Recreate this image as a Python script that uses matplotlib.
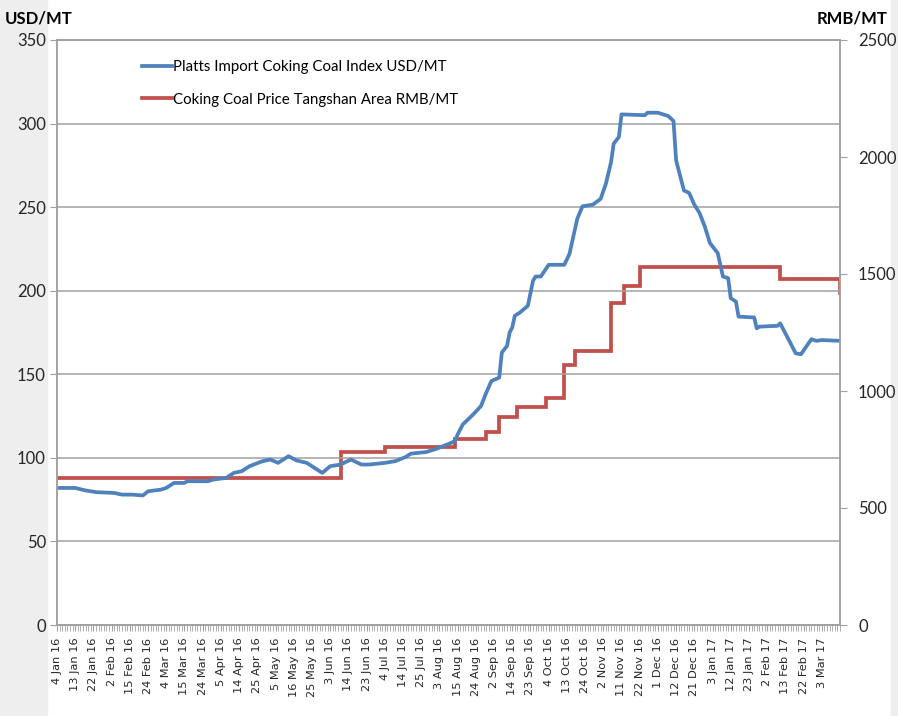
import matplotlib
matplotlib.use("Agg")
import matplotlib.pyplot as plt
from matplotlib.patches import Rectangle
from matplotlib.ticker import MultipleLocator

# x axis is a category axis of trading days, a label every 7th day
tick_labels = [
    "4 Jan 16", "13 Jan 16", "22 Jan 16", "2 Feb 16", "15 Feb 16", "24 Feb 16",
    "4 Mar 16", "15 Mar 16", "24 Mar 16", "5 Apr 16", "14 Apr 16", "25 Apr 16",
    "5 May 16", "16 May 16", "25 May 16", "3 Jun 16", "14 Jun 16", "23 Jun 16",
    "4 Jul 16", "14 Jul 16", "25 Jul 16", "3 Aug 16", "15 Aug 16", "24 Aug 16",
    "2 Sep 16", "14 Sep 16", "23 Sep 16", "4 Oct 16", "13 Oct 16", "24 Oct 16",
    "2 Nov 16", "11 Nov 16", "22 Nov 16", "1 Dec 16", "12 Dec 16", "21 Dec 16",
    "3 Jan 17", "12 Jan 17", "23 Jan 17", "2 Feb 17", "13 Feb 17", "22 Feb 17",
    "3 Mar 17",
]
n_days = 302

# Platts import coking coal index, USD/MT (trading day no., value)
usd_day = [0, 7, 11, 15, 22, 25, 29, 33, 35, 40, 42, 45, 49, 50, 58, 60, 65, 68,
           71, 74, 79, 82, 85, 89, 92, 96, 99, 102, 105, 109, 113, 117, 120, 126,
           130, 134, 136, 142, 146, 150, 153, 154, 156, 158, 160, 163, 165, 167,
           170, 171, 173, 174, 175, 176, 178, 181, 183, 184, 186, 189, 195, 197,
           198, 199, 200, 202, 206, 209, 211, 213, 214, 216, 217, 226, 227, 231,
           235, 237, 238, 241, 243, 245, 247, 249, 251, 254, 256, 258, 259, 261,
           262, 268, 269, 270, 277, 278, 281, 284, 286, 288, 290, 292, 294, 301]
usd_val = [82, 82, 80.5, 79.5, 79, 78, 78, 77.5, 80, 81, 82, 85, 85, 86, 86, 87,
           88, 91, 92, 95, 98, 99, 97, 101, 98.5, 97, 94, 91, 95, 96, 99, 96, 96,
           97, 98, 100.5, 102.5, 103.5, 105.5, 108, 110, 114, 120, 123, 126, 131,
           139, 146, 148, 163, 167, 175, 178, 185, 187, 191, 206, 208.5, 208.5,
           215.5, 215.5, 222, 229, 236, 243, 250.5, 251.5, 255, 264, 277, 288,
           292, 305.5, 305, 306.5, 306.5, 304.5, 301.5, 278, 260, 258.5, 251.5,
           246.5, 238.5, 228.5, 222.5, 208.5, 207.5, 195.5, 193.5, 184.5, 184,
           177.5, 178.5, 179, 180.5, 171.5, 162.5, 162, 166.5, 171, 170, 170.5, 170]

# Coking coal price Tangshan area, RMB/MT (step changes)
rmb_day = [0, 109, 126, 153, 165, 170, 177, 188, 195, 199, 213, 218, 224, 278, 300, 301]
rmb_val = [630, 740, 760, 795, 825, 890, 930, 970, 1110, 1170, 1375, 1450, 1530,
           1480, 1480, 1420]

blue = "#4f81bd"
red = "#c0504d"
grey = "#a0a0a0"
plt.rcParams["font.family"] = ["Lato", "DejaVu Sans"]

W, H = 898, 716
fig = plt.figure(figsize=(W / 100, H / 100), dpi=100)
fig.patches.append(Rectangle((0, 0), 47 / W, 1, transform=fig.transFigure,
                             color="#eeeeee", zorder=-5))
fig.patches.append(Rectangle((891 / W, 0), 7 / W, 1, transform=fig.transFigure,
                             color="#eeeeee", zorder=-5))

ax = fig.add_axes([57 / W, 91 / H, 783 / W, 585 / H])
ax2 = ax.twinx()
ax.set_zorder(ax2.get_zorder() + 1)
ax.patch.set_visible(False)

l2, = ax2.plot(rmb_day, rmb_val, color=red, lw=2.7, drawstyle="steps-post",
               solid_joinstyle="miter")
l1, = ax.plot(usd_day, usd_val, color=blue, lw=2.7, solid_joinstyle="round")

ax.set_xlim(0, n_days - 1)
ax.set_ylim(0, 350)
ax2.set_ylim(0, 2500)
ax.set_yticks(range(0, 351, 50))
ax2.set_yticks(range(0, 2501, 500))
ax.yaxis.grid(True, color=grey, lw=1.1)
ax.set_axisbelow(True)

ax.set_xticks(range(0, 7 * len(tick_labels), 7))
ax.set_xticklabels(tick_labels, rotation=90, fontsize=8.2,
                   family="DejaVu Sans", color="#262626")
ax.xaxis.set_minor_locator(MultipleLocator(1))
ax.tick_params(axis="x", which="both", length=4, color=grey, pad=5)
ax.tick_params(axis="y", length=5, color=grey, labelsize=12,
               labelcolor="#262626", pad=3)
ax2.tick_params(axis="y", length=5, color=grey, labelsize=12,
                labelcolor="#262626", pad=8)

for a in (ax, ax2):
    for s in a.spines.values():
        s.set_color(grey)
        s.set_linewidth(1.1)

fig.text(5 / W, 1 - 18 / H, "USD/MT", fontsize=12, fontweight="bold",
         ha="left", va="center")
fig.text(888 / W, 1 - 18 / H, "RMB/MT", fontsize=12, fontweight="bold",
         ha="right", va="center")

ax.legend([l1, l2], ["Platts Import Coking Coal Index USD/MT",
                     "Coking Coal Price Tangshan Area RMB/MT"],
          loc="upper left", bbox_to_anchor=(0.1086, 0.966), frameon=False,
          fontsize=10.8, handlelength=2.0, handletextpad=0.05,
          labelspacing=1.25, borderpad=0, borderaxespad=0)

fig.savefig("out.png", dpi=100)
